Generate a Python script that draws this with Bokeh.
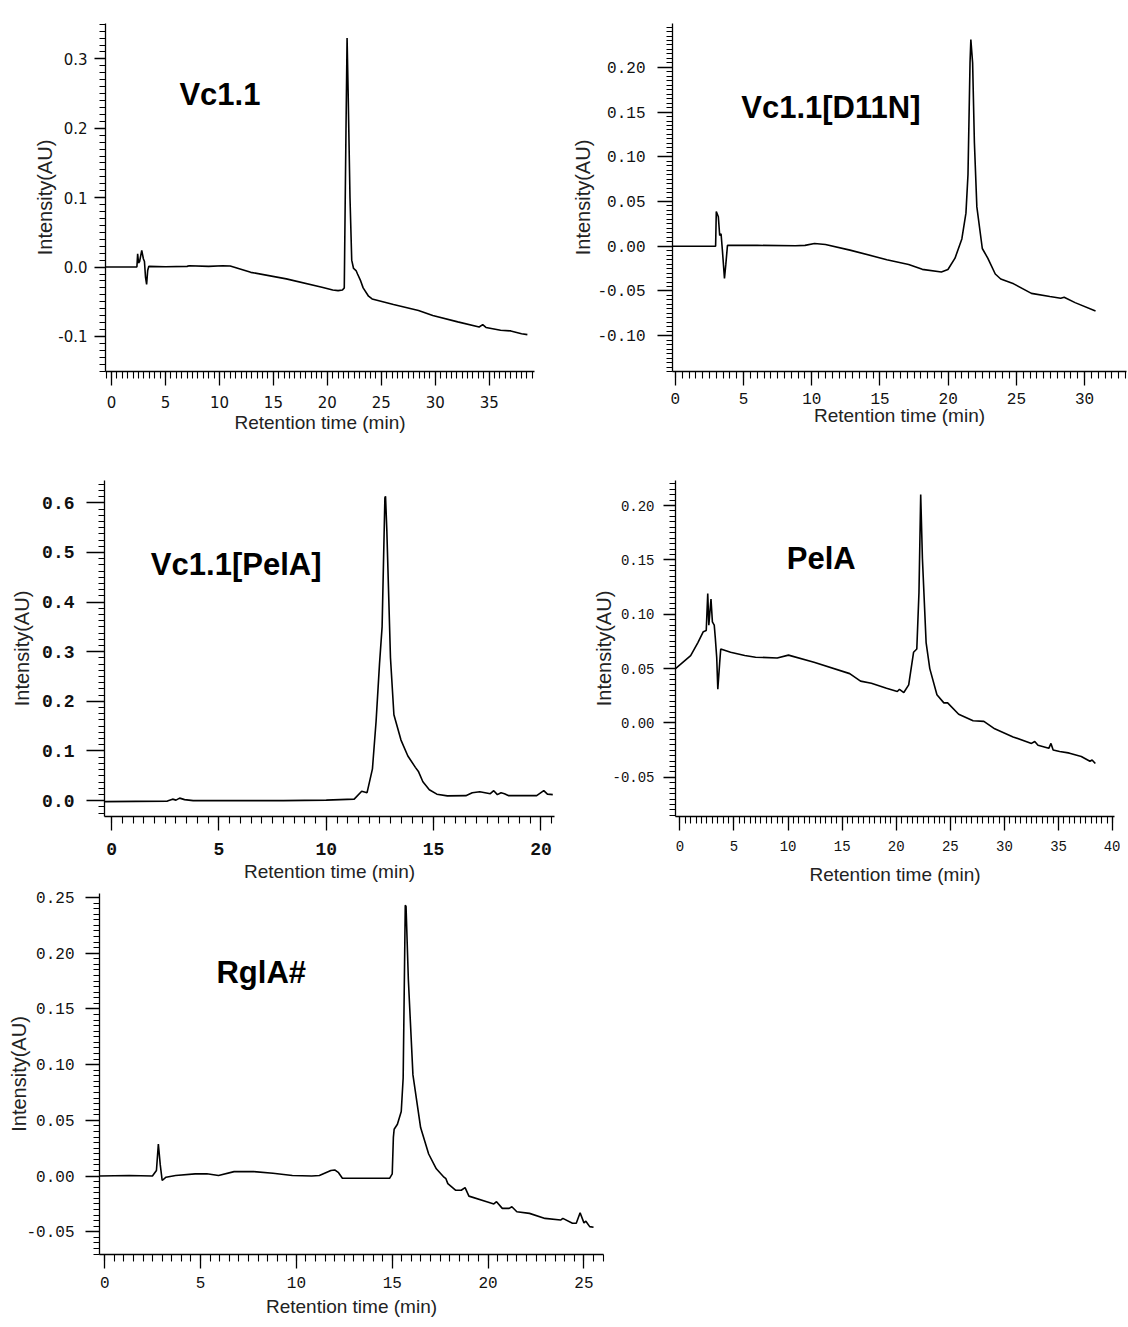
from bokeh.plotting import figure
from bokeh.layouts import column, row
from bokeh.models import Range1d, Label, SingleIntervalTicker, PrintfTickFormatter
from bokeh.embed import file_html
from bokeh.resources import INLINE

# ---------------- data (retention time in min, intensity in AU) ----------------
vc11_t = [-0.56, 2.35, 2.42, 2.5, 2.6, 2.8, 2.95, 3.05, 3.15, 3.25, 3.35, 3.45, 5.0, 7.0, 7.2,
          9.0, 10.3, 11.0, 12.9, 16.2, 19.5, 20.5, 21.0, 21.4, 21.57, 21.73, 21.83, 21.93, 22.1,
          22.26, 22.43, 22.66, 22.8, 23.09, 23.32, 23.82, 24.15, 26.13, 28.45, 29.77, 32.09,
          34.07, 34.4, 34.7, 36.06, 37.0, 38.0, 38.54]
vc11_y = [0.0, 0.0, 0.019, 0.006, 0.008, 0.024, 0.012, 0.008, -0.015, -0.025, -0.005, 0.001,
          0.0005, 0.001, 0.002, 0.001, 0.002, 0.0015, -0.0076, -0.017, -0.029, -0.033, -0.034,
          -0.033, -0.03, 0.2, 0.33, 0.25, 0.1, 0.01, -0.002, -0.005, -0.01, -0.02, -0.03, -0.042,
          -0.046, -0.054, -0.0626, -0.0697, -0.079, -0.0864, -0.083, -0.087, -0.091, -0.092,
          -0.096, -0.0974]

d11n_t = [-0.21, 2.95, 3.0, 3.15, 3.25, 3.35, 3.45, 3.6, 3.7, 3.82, 6.0, 8.8, 9.5, 10.2, 11.0,
          12.8, 15.5, 17.1, 18.1, 19.5, 19.98, 20.5, 21.0, 21.3, 21.45, 21.6, 21.66, 21.79, 21.92,
          22.1, 22.5, 22.9, 23.45, 23.85, 24.8, 26.1, 27.45, 28.25, 28.5, 29.3, 30.8]
d11n_y = [0.0, 0.0, 0.0387, 0.033, 0.012, 0.014, -0.005, -0.036, -0.02, 0.001, 0.001, 0.0005,
          0.001, 0.003, 0.002, -0.0043, -0.015, -0.0204, -0.0258, -0.0287, -0.026, -0.0133,
          0.0082, 0.037, 0.08, 0.205, 0.231, 0.205, 0.116, 0.044, -0.0025, -0.0133, -0.031,
          -0.0366, -0.042, -0.0527, -0.0562, -0.0581, -0.057, -0.063, -0.0724]

vpela_t = [-0.33, 2.6, 2.84, 3.0, 3.17, 3.4, 3.8, 8.0, 10.0, 11.3, 11.65, 11.9, 12.15, 12.32,
           12.48, 12.6, 12.73, 12.76, 12.82, 12.99, 13.15, 13.48, 13.8, 14.15, 14.3, 14.5, 14.8,
           15.15, 15.64, 16.5, 16.8, 17.15, 17.64, 17.8, 17.97, 18.14, 18.3, 18.5, 19.8, 20.13,
           20.3, 20.55]
vpela_y = [-0.002, -0.001, 0.003, 0.001, 0.005, 0.002, 0.0, 0.0, 0.001, 0.003, 0.019, 0.016,
           0.064, 0.16, 0.276, 0.35, 0.61, 0.613, 0.545, 0.288, 0.173, 0.122, 0.09, 0.067, 0.058,
           0.038, 0.022, 0.013, 0.0096, 0.01, 0.016, 0.018, 0.014, 0.02, 0.012, 0.016, 0.014,
           0.01, 0.01, 0.02, 0.013, 0.012]

pela_t = [-0.4, 1.0, 1.67, 2.17, 2.44, 2.58, 2.68, 2.88, 3.01, 3.18, 3.28, 3.41, 3.51, 3.68, 3.78,
          4.69, 6.0, 7.0, 9.0, 10.04, 12.4, 15.7, 16.7, 17.7, 19.1, 20.1, 20.3, 20.7, 21.15, 21.6,
          21.9, 22.1, 22.26, 22.42, 22.76, 23.1, 23.76, 24.4, 24.75, 25.77, 27.1, 28.1, 29.1,
          30.8, 32.5, 32.8, 33.1, 34.1, 34.3, 34.5, 35.1, 35.9, 36.1, 37.1, 37.9, 38.1, 38.4]
pela_y = [0.05, 0.062, 0.074, 0.084, 0.085, 0.119, 0.09, 0.114, 0.093, 0.09, 0.078, 0.06, 0.031,
          0.055, 0.068, 0.065, 0.062, 0.0605, 0.0598, 0.0624, 0.0558, 0.0454, 0.0385, 0.0365,
          0.032, 0.029, 0.031, 0.028, 0.035, 0.065, 0.068, 0.12, 0.21, 0.151, 0.074, 0.05, 0.026,
          0.0185, 0.0185, 0.008, 0.002, 0.0015, -0.0054, -0.0128, -0.0188, -0.017, -0.0205,
          -0.0233, -0.0188, -0.0248, -0.0263, -0.0275, -0.028, -0.0308, -0.0352, -0.034, -0.0373]

rgla_t = [-0.27, 1.28, 2.49, 2.7, 2.8, 2.9, 3.0, 3.2, 3.7, 4.72, 5.33, 5.94, 6.75, 7.77, 8.78,
          9.79, 10.8, 11.2, 11.8, 12.0, 12.2, 12.4, 12.8, 14.86, 15.0, 15.06, 15.1, 15.27, 15.47,
          15.57, 15.68, 15.72, 15.84, 16.08, 16.48, 16.9, 17.3, 17.7, 17.8, 17.9, 18.3, 18.6,
          18.8, 19.0, 19.93, 20.3, 20.44, 20.74, 21.1, 21.24, 21.5, 22.16, 22.97, 23.78, 23.9,
          24.4, 24.6, 24.8, 25.0, 25.1, 25.3, 25.5]
rgla_y = [0.0, 0.0005, 0.0, 0.005, 0.0287, 0.01, -0.004, -0.001, 0.0005, 0.002, 0.002, 0.0005,
          0.004, 0.004, 0.0025, 0.0005, 0.0, 0.0005, 0.005, 0.0055, 0.003, -0.002, -0.002,
          -0.002, 0.002, 0.035, 0.042, 0.0465, 0.058, 0.088, 0.243, 0.242, 0.1766, 0.0908,
          0.0435, 0.0198, 0.0065, -0.001, -0.0024, -0.0068, -0.0127, -0.0127, -0.0104, -0.018,
          -0.023, -0.025, -0.023, -0.029, -0.029, -0.0275, -0.032, -0.0335, -0.038, -0.0395,
          -0.038, -0.0423, -0.0423, -0.033, -0.042, -0.0405, -0.0454, -0.046]

titles = ["Vc1.1", "Vc1.1[D11N]", "Vc1.1[PelA]", "PelA", "RglA#"]
title_pos = [(6.29, 0.248), (4.83, 0.155), (1.83, 0.4765), (9.88, 0.151), (5.83, 0.183)]
x_label = "Retention time (min)"
y_label = "Intensity(AU)"


def panel(t, y, width, height, borders, xr, yr, y_interval, y_minor, y_fmt, tick_font,
          tick_size, tick_style, y_tick_out, y_lab_standoff, y_axlab_standoff, x_lab_standoff,
          x_axlab_standoff, title, tpos):
    l, r, top, b = borders
    p = figure(width=width, height=height, x_range=Range1d(*xr), y_range=Range1d(*yr),
               output_backend="svg", toolbar_location=None,
               min_border_left=l, min_border_right=r, min_border_top=top,
               min_border_bottom=b)
    p.outline_line_color = None
    p.xgrid.visible = False
    p.ygrid.visible = False
    p.line(t, y, line_color="black", line_width=1.6)
    p.xaxis.ticker = SingleIntervalTicker(interval=5, num_minor_ticks=10)
    p.yaxis.ticker = SingleIntervalTicker(interval=y_interval, num_minor_ticks=y_minor)
    p.yaxis.formatter = PrintfTickFormatter(format=y_fmt)
    for ax in (p.xaxis[0], p.yaxis[0]):
        ax.axis_line_color = "black"
        ax.axis_line_width = 1.3
        ax.major_tick_line_color = "black"
        ax.major_tick_line_width = 1.3
        ax.minor_tick_line_color = "black"
        ax.minor_tick_line_width = 1.1
        ax.major_tick_in = 0
        ax.minor_tick_in = 0
        ax.major_label_text_font = tick_font
        ax.major_label_text_font_size = tick_size
        ax.major_label_text_font_style = tick_style
        ax.major_label_text_color = "#111111"
        ax.axis_label_text_font = "Liberation Sans"
        ax.axis_label_text_font_style = "normal"
        ax.axis_label_text_color = "#222222"
    p.xaxis.axis_label_text_font_size = "19px"
    p.yaxis.axis_label_text_font_size = "20px"
    p.xaxis.major_tick_out = 14
    p.xaxis.minor_tick_out = 7
    p.yaxis.major_tick_out = y_tick_out
    p.yaxis.minor_tick_out = 6
    p.xaxis.axis_label = x_label
    p.yaxis.axis_label = y_label
    p.yaxis.major_label_standoff = y_lab_standoff
    p.yaxis.axis_label_standoff = y_axlab_standoff
    p.xaxis.major_label_standoff = x_lab_standoff
    p.xaxis.axis_label_standoff = x_axlab_standoff
    p.add_layout(Label(x=tpos[0], y=tpos[1], text=title, text_font="Liberation Sans",
                       text_font_size="31px", text_font_style="bold",
                       text_baseline="middle", text_color="black"))
    return p


p1 = panel(vc11_t, vc11_y, 560, 455, (105, 26, 23, 82), (-0.56, 39.2), (-0.1505, 0.351),
           0.1, 10, "%.1f", "DejaVu Sans", "15px", "normal", 11, 7, -1, 10, 1,
           titles[0], title_pos[0])
p2 = panel(d11n_t, d11n_y, 568, 455, (112, 2, 9, 84), (-0.21, 33.07), (-0.14, 0.249),
           0.05, 10, "%.2f", "Liberation Mono", "16px", "normal", 15, 12, 0, 7, -2,
           titles[1], title_pos[1])
p3 = panel(vpela_t, vpela_y, 560, 432, (104, 6, 20, 60), (-0.33, 20.63), (-0.032, 0.645),
           0.1, 8, "%.1f", "Liberation Mono", "18px", "bold", 18, 12, 6, 12, 3,
           titles[2], title_pos[2])
p4 = panel(pela_t, pela_y, 560, 432, (115, 6, 25, 62), (-0.40, 40.17), (-0.086, 0.223),
           0.05, 10, "%.2f", "Liberation Mono", "14px", "normal", 12, 9, -6, 10, 10,
           titles[3], title_pos[3])
p5 = panel(rgla_t, rgla_y, 608, 432, (99, 5, 6, 61), (-0.27, 26.02), (-0.0704, 0.2536),
           0.05, 10, "%.2f", "Liberation Mono", "16px", "normal", 14, 11, -7, 8, 5,
           titles[4], title_pos[4])

layout = column(row(p1, p2), row(p3, p4), p5)
open("out.html", "w").write(file_html(layout, INLINE))
